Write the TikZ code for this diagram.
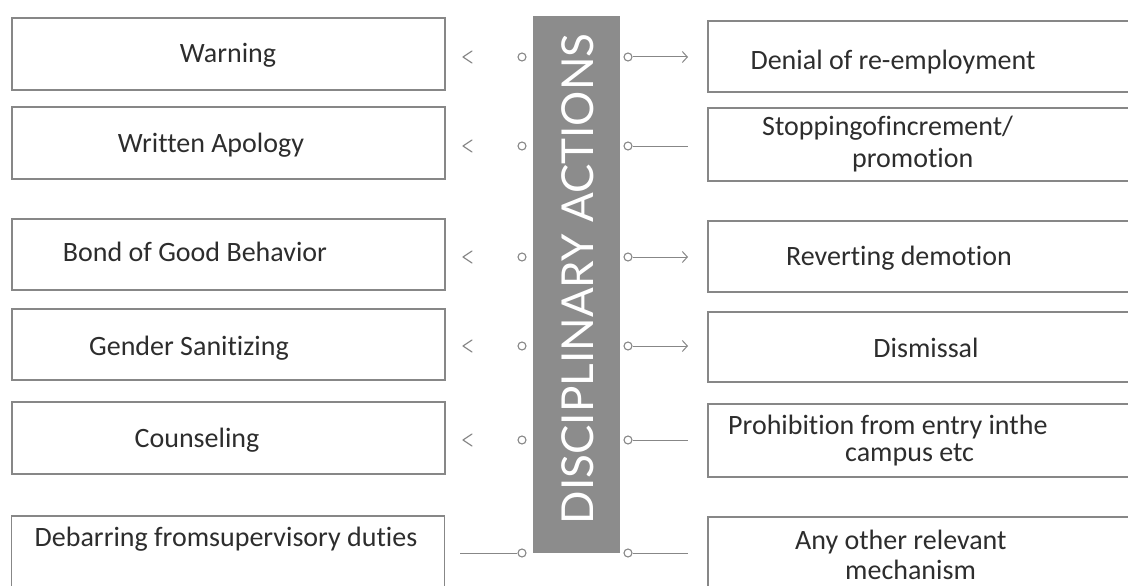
\documentclass[tikz,border=0pt]{standalone}
\usepackage{fontspec}
\setmainfont{Carlito}[Ligatures=NoCommon]
\newfontfamily\barfont{Lato}
\usetikzlibrary{arrows.meta}
\definecolor{boxgray}{RGB}{135,135,135}
\definecolor{bargray}{RGB}{140,140,140}
\definecolor{textgray}{RGB}{45,45,45}

\tikzset{
  actbox/.style={draw=boxgray, line width=1.1pt, minimum width=433pt, inner sep=0pt},
  acttext/.style={text=textgray, font=\fontsize{28}{32}\selectfont, inner sep=0pt},
  dot/.style={circle, draw=boxgray, line width=1.1pt, minimum size=8pt, inner sep=0pt},
  conn/.style={draw=boxgray, line width=1pt},
  chev/.style={draw=boxgray, line width=1.2pt, line cap=round, line join=round}
}

\begin{document}
\begin{tikzpicture}[x=1pt, y=-1pt]
  \useasboundingbox (0,0) rectangle (1128,586);

  % Centre bar
  \node[fill=bargray, minimum width=87pt, minimum height=537pt, inner sep=0pt] (bar) at (576.5,284.5) {};
  \node[rotate=90, text=white, font=\barfont\fontsize{44}{48}\selectfont, inner sep=0pt] (title) at (578,279) {DISCIPLINARY ACTIONS};

  % Left boxes
  \node[actbox, minimum height=72pt] (L1) at (228.5,54) {};
  \node[actbox, minimum height=72pt] (L2) at (228.5,143) {};
  \node[actbox, minimum height=71pt] (L3) at (228.5,254.5) {};
  \node[actbox, minimum height=71pt] (L4) at (228.5,344.5) {};
  \node[actbox, minimum height=72pt] (L5) at (228.5,438) {};
  \node[actbox, minimum height=80pt] (L6) at (228,556) {};

  \node[acttext] (Lt1) at (228,55) {Warning};
  \node[acttext] (Lt2) at (211,145) {Written Apology};
  \node[acttext] (Lt3) at (195,252) {Bond of Good Behavior};
  \node[acttext] (Lt4) at (189,348) {Gender Sanitizing};
  \node[acttext] (Lt5) at (197,440) {Counseling};
  \node[acttext] (Lt6) at (226,539) {Debarring fromsupervisory duties};

  % Right boxes
  \node[actbox, minimum width=440pt, minimum height=71pt] (R1) at (928,56.5) {};
  \node[actbox, minimum width=440pt, minimum height=73pt] (R2) at (928,144.5) {};
  \node[actbox, minimum width=440pt, minimum height=71pt] (R3) at (928,256.5) {};
  \node[actbox, minimum width=440pt, minimum height=70pt] (R4) at (928,347) {};
  \node[actbox, minimum width=440pt, minimum height=73pt] (R5) at (928,440.5) {};
  \node[actbox, minimum width=440pt, minimum height=80pt] (R6) at (928,557) {};

  \node[acttext] (Rt1) at (893,62) {Denial of re-employment};
  \node[acttext, anchor=west] (Rt2a) at (762,128) {Stoppingofincrement/};
  \node[acttext, anchor=west] (Rt2b) at (852,160) {promotion};
  \node[acttext] (Rt3) at (899,258) {Reverting demotion};
  \node[acttext] (Rt4) at (926,348) {Dismissal};
  \node[acttext, anchor=west] (Rt5a) at (728,427) {Prohibition from entry inthe};
  \node[acttext, anchor=west] (Rt5b) at (845,455) {campus etc};
  \node[acttext, anchor=west] (Rt6a) at (795,542) {Any other relevant};
  \node[acttext, anchor=west] (Rt6b) at (845,570) {mechanism};

  % Small circles and connector ends
  \foreach \i/\y in {1/57, 2/146, 3/257, 4/346, 5/440, 6/553} {
    \node[dot] (lc\i) at (522,\y) {};
    \node[dot] (rc\i) at (628,\y) {};
    \coordinate (re\i) at (688,\y);
  }

  % Left chevrons
  \foreach \y in {57, 146, 257, 346, 440}
    \draw[chev] (472,\y-6) -- (463,\y) -- (472,\y+6);

  % Connectors
  \coordinate (le6) at (460,553);
  \draw[conn] (le6) -- (lc6);
  \foreach \i in {1,3,4}
    \draw[conn, -{Straight Barb[length=5pt, width=11pt]}] (rc\i) -- (re\i);
  \foreach \i in {2,5,6}
    \draw[conn] (rc\i) -- (re\i);
\end{tikzpicture}
\end{document}
